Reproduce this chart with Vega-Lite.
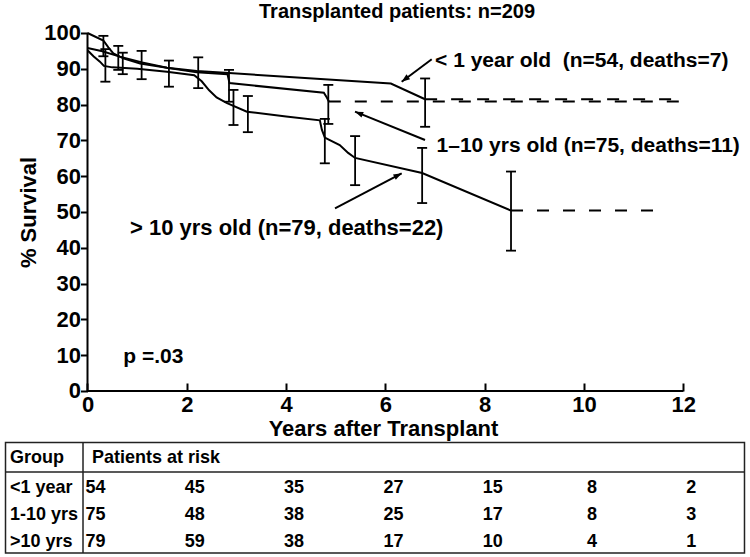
{
  "$schema": "https://vega.github.io/schema/vega-lite/v6.json",
  "width": 740,
  "height": 522.68,
  "autosize": {"type": "none"},
  "padding": {"left": 5, "top": 33, "right": 5, "bottom": 0},
  "background": "white",
  "config": {"view": {"stroke": null}, "font": "Liberation Sans"},
  "title": {"text": "Transplanted patients: n=209", "font": "Liberation Sans", "fontSize": 20, "fontWeight": "bold", "color": "black", "anchor": "middle", "dx": 22, "offset": -16, "baseline": "alphabetic"},
  "datasets": {
    "curves": [
      {"group": "<1 year", "t": 0, "s": 100}, {"group": "<1 year", "t": 0.32, "s": 97.9}, {"group": "<1 year", "t": 0.42, "s": 96.0}, {"group": "<1 year", "t": 0.52, "s": 94.3}, {"group": "<1 year", "t": 0.72, "s": 92.9}, {"group": "<1 year", "t": 1.06, "s": 91.5}, {"group": "<1 year", "t": 1.6, "s": 90.3}, {"group": "<1 year", "t": 2.2, "s": 89.4}, {"group": "<1 year", "t": 2.85, "s": 88.8}, {"group": "<1 year", "t": 6.11, "s": 85.9}, {"group": "<1 year", "t": 6.8, "s": 81.5},
      {"group": "1-10 yrs", "t": 0, "s": 95.8}, {"group": "1-10 yrs", "t": 0.3, "s": 94.9}, {"group": "1-10 yrs", "t": 0.65, "s": 93.4}, {"group": "1-10 yrs", "t": 1.1, "s": 91.8}, {"group": "1-10 yrs", "t": 1.6, "s": 90.3}, {"group": "1-10 yrs", "t": 2.2, "s": 89.0}, {"group": "1-10 yrs", "t": 2.82, "s": 88.5}, {"group": "1-10 yrs", "t": 2.86, "s": 86.0}, {"group": "1-10 yrs", "t": 4.76, "s": 83.3}, {"group": "1-10 yrs", "t": 4.82, "s": 82.0}, {"group": "1-10 yrs", "t": 4.86, "s": 80.9},
      {"group": ">10 yrs", "t": 0, "s": 95.2}, {"group": ">10 yrs", "t": 0.12, "s": 93.5}, {"group": ">10 yrs", "t": 0.25, "s": 92.0}, {"group": ">10 yrs", "t": 0.33, "s": 90.8}, {"group": ">10 yrs", "t": 0.5, "s": 90.4}, {"group": ">10 yrs", "t": 1.0, "s": 90.0}, {"group": ">10 yrs", "t": 1.6, "s": 89.2}, {"group": ">10 yrs", "t": 2.15, "s": 88.2}, {"group": ">10 yrs", "t": 2.3, "s": 86.5}, {"group": ">10 yrs", "t": 2.45, "s": 84.0}, {"group": ">10 yrs", "t": 2.6, "s": 82.0}, {"group": ">10 yrs", "t": 2.8, "s": 80.5}, {"group": ">10 yrs", "t": 3.21, "s": 78.0}, {"group": ">10 yrs", "t": 4.0, "s": 76.7}, {"group": ">10 yrs", "t": 4.68, "s": 75.6}, {"group": ">10 yrs", "t": 4.72, "s": 73.0}, {"group": ">10 yrs", "t": 4.78, "s": 70.8}, {"group": ">10 yrs", "t": 4.85, "s": 70.3}, {"group": ">10 yrs", "t": 5.08, "s": 68.7}, {"group": ">10 yrs", "t": 5.25, "s": 66.5}, {"group": ">10 yrs", "t": 5.39, "s": 65.1}, {"group": ">10 yrs", "t": 6.74, "s": 60.9}, {"group": ">10 yrs", "t": 8.53, "s": 50.4}
    ],
    "tails": [
      {"group": "<1 year", "t": 6.8, "s": 81.5}, {"group": "<1 year", "t": 11.97, "s": 81.5},
      {"group": "1-10 yrs", "t": 4.86, "s": 80.9}, {"group": "1-10 yrs", "t": 11.97, "s": 80.9},
      {"group": ">10 yrs", "t": 8.53, "s": 50.4}, {"group": ">10 yrs", "t": 11.49, "s": 50.4}
    ],
    "bars": [
      {"group": "<1 year", "t": 0.32, "lo": 93.5, "hi": 99.2},
      {"group": ">10 yrs", "t": 0.36, "lo": 86.4, "hi": 95.5},
      {"group": "1-10 yrs", "t": 0.62, "lo": 89.7, "hi": 96.4},
      {"group": "<1 year", "t": 0.71, "lo": 88.5, "hi": 94.5},
      {"group": "1-10 yrs", "t": 1.09, "lo": 87.1, "hi": 95.0},
      {"group": ">10 yrs", "t": 1.64, "lo": 85.0, "hi": 92.3},
      {"group": "<1 year", "t": 2.23, "lo": 84.6, "hi": 93.2},
      {"group": "1-10 yrs", "t": 2.85, "lo": 80.8, "hi": 89.7},
      {"group": ">10 yrs", "t": 2.94, "lo": 74.3, "hi": 84.1},
      {"group": ">10 yrs", "t": 3.23, "lo": 72.3, "hi": 82.4},
      {"group": ">10 yrs", "t": 4.78, "lo": 63.6, "hi": 76.0},
      {"group": "1-10 yrs", "t": 4.85, "lo": 74.6, "hi": 85.5},
      {"group": ">10 yrs", "t": 5.39, "lo": 57.5, "hi": 71.2},
      {"group": ">10 yrs", "t": 6.74, "lo": 52.5, "hi": 67.9},
      {"group": "<1 year", "t": 6.8, "lo": 73.8, "hi": 87.3},
      {"group": ">10 yrs", "t": 8.53, "lo": 39.2, "hi": 61.3}
    ],
    "labels": [
      {"text": "< 1 year old \u00a0(n=54, deaths=7)", "t": 7.0, "s": 92.26, "size": "m"},
      {"text": "1–10 yrs old (n=75, deaths=11)", "t": 7.03, "s": 68.44, "size": "m"},
      {"text": "> 10 yrs old (n=79, deaths=22)", "t": 0.856, "s": 45.5, "size": "l"},
      {"text": "p =.03", "t": 0.72, "s": 9.58, "size": "m"}
    ],
    "arrows": [
      {"arrow": "a", "t": 6.933, "s": 92.65, "t2": 6.328, "s2": 86.4},
      {"arrow": "b", "t": 6.798, "s": 70.11, "t2": 5.388, "s2": 78.02},
      {"arrow": "c", "t": 4.985, "s": 51.03, "t2": 6.328, "s2": 60.81}
    ],
    "risk": [
      {"group": "<1 year", "year": 0, "n": 54}, {"group": "<1 year", "year": 2, "n": 45}, {"group": "<1 year", "year": 4, "n": 35}, {"group": "<1 year", "year": 6, "n": 27}, {"group": "<1 year", "year": 8, "n": 15}, {"group": "<1 year", "year": 10, "n": 8}, {"group": "<1 year", "year": 12, "n": 2},
      {"group": "1-10 yrs", "year": 0, "n": 75}, {"group": "1-10 yrs", "year": 2, "n": 48}, {"group": "1-10 yrs", "year": 4, "n": 38}, {"group": "1-10 yrs", "year": 6, "n": 25}, {"group": "1-10 yrs", "year": 8, "n": 17}, {"group": "1-10 yrs", "year": 10, "n": 8}, {"group": "1-10 yrs", "year": 12, "n": 3},
      {"group": ">10 yrs", "year": 0, "n": 79}, {"group": ">10 yrs", "year": 2, "n": 59}, {"group": ">10 yrs", "year": 4, "n": 38}, {"group": ">10 yrs", "year": 6, "n": 17}, {"group": ">10 yrs", "year": 8, "n": 10}, {"group": ">10 yrs", "year": 10, "n": 4}, {"group": ">10 yrs", "year": 12, "n": 1}
    ]
  },
  "layer": [
    {
      "data": {"values": [{}]},
      "mark": {"type": "rule", "strokeWidth": 2, "color": "black"},
      "encoding": {
        "x": {"datum": 0, "type": "quantitative",
          "scale": {"domain": [-1.6616, 13.2427], "nice": false, "zero": false},
          "axis": {"title": "Years after Transplant", "values": [0, 2, 4, 6, 8, 10, 12], "offset": -164.68, "domain": false, "grid": false,
            "tickSize": -8, "tickWidth": 2, "tickColor": "black",
            "labelFont": "Liberation Sans", "labelFontSize": 22, "labelFontWeight": "bold", "labelColor": "black", "labelPadding": 12, "labelFlush": false, "labelOverlap": false,
            "titleFont": "Liberation Sans", "titleFontSize": 22, "titleFontWeight": "bold", "titleColor": "black",
            "titleX": 378, "titleY": 44.5, "titleBaseline": "alphabetic", "titleAlign": "center"}},
        "y": {"datum": 0, "type": "quantitative",
          "scale": {"domain": [-46, 100], "nice": false, "zero": false},
          "axis": {"title": "% Survival", "values": [0, 10, 20, 30, 40, 50, 60, 70, 80, 90, 100], "offset": -82.5, "domain": false, "grid": false,
            "tickSize": 7, "tickWidth": 2, "tickColor": "black",
            "labelFont": "Liberation Sans", "labelFontSize": 22, "labelFontWeight": "bold", "labelColor": "black", "labelPadding": 0, "labelOverlap": false,
            "titleFont": "Liberation Sans", "titleFontSize": 22, "titleFontWeight": "bold", "titleColor": "black",
            "titleX": -58.8, "titleY": 179, "titleBaseline": "middle", "titleAlign": "center", "titleAngle": -90}},
        "y2": {"datum": 100}
      }
    },
    {
      "data": {"values": [{}]},
      "mark": {"type": "rule", "strokeWidth": 2, "color": "black"},
      "encoding": {"x": {"datum": 0}, "x2": {"datum": 12}, "y": {"datum": 0}}
    },
    {
      "data": {"name": "curves"},
      "mark": {"type": "line", "strokeWidth": 2, "color": "black"},
      "encoding": {"x": {"field": "t", "type": "quantitative"}, "y": {"field": "s", "type": "quantitative"}, "detail": {"field": "group"}}
    },
    {
      "data": {"name": "tails"},
      "mark": {"type": "line", "strokeWidth": 2, "color": "black", "strokeDash": [12, 14]},
      "encoding": {"x": {"field": "t", "type": "quantitative"}, "y": {"field": "s", "type": "quantitative"}, "detail": {"field": "group"}}
    },
    {
      "data": {"name": "bars"},
      "mark": {"type": "rule", "strokeWidth": 1.8, "color": "black"},
      "encoding": {"x": {"field": "t", "type": "quantitative"}, "y": {"field": "lo", "type": "quantitative"}, "y2": {"field": "hi"}}
    },
    {
      "data": {"name": "bars"},
      "mark": {"type": "tick", "orient": "horizontal", "size": 10, "thickness": 1.8, "color": "black", "opacity": 1},
      "encoding": {"x": {"field": "t", "type": "quantitative"}, "y": {"field": "lo", "type": "quantitative"}}
    },
    {
      "data": {"name": "bars"},
      "mark": {"type": "tick", "orient": "horizontal", "size": 10, "thickness": 1.8, "color": "black", "opacity": 1},
      "encoding": {"x": {"field": "t", "type": "quantitative"}, "y": {"field": "hi", "type": "quantitative"}}
    },
    {
      "data": {"name": "labels"},
      "transform": [{"filter": "datum.size === 'm'"}],
      "mark": {"type": "text", "align": "left", "baseline": "middle", "font": "Liberation Sans", "fontSize": 21, "fontWeight": "bold", "color": "black"},
      "encoding": {"x": {"field": "t", "type": "quantitative"}, "y": {"field": "s", "type": "quantitative"}, "text": {"field": "text"}}
    },
    {
      "data": {"name": "labels"},
      "transform": [{"filter": "datum.size === 'l'"}],
      "mark": {"type": "text", "align": "left", "baseline": "middle", "font": "Liberation Sans", "fontSize": 22, "fontWeight": "bold", "color": "black"},
      "encoding": {"x": {"field": "t", "type": "quantitative"}, "y": {"field": "s", "type": "quantitative"}, "text": {"field": "text"}}
    },
    {
      "data": {"name": "arrows"},
      "mark": {"type": "rule", "strokeWidth": 2, "color": "black"},
      "encoding": {"x": {"field": "t", "type": "quantitative"}, "y": {"field": "s", "type": "quantitative"}, "x2": {"field": "t2"}, "y2": {"field": "s2"}}
    },
    {
      "data": {"name": "arrows"},
      "transform": [{"filter": "datum.arrow === 'a'"}],
      "mark": {"type": "point", "shape": "M0,0L0.55,1.5L-0.55,1.5Z", "filled": true, "size": 120, "color": "black", "opacity": 1, "angle": 233.25},
      "encoding": {"x": {"field": "t2", "type": "quantitative"}, "y": {"field": "s2", "type": "quantitative"}}
    },
    {
      "data": {"name": "arrows"},
      "transform": [{"filter": "datum.arrow === 'b'"}],
      "mark": {"type": "point", "shape": "M0,0L0.55,1.5L-0.55,1.5Z", "filled": true, "size": 120, "color": "black", "opacity": 1, "angle": 292},
      "encoding": {"x": {"field": "t2", "type": "quantitative"}, "y": {"field": "s2", "type": "quantitative"}}
    },
    {
      "data": {"name": "arrows"},
      "transform": [{"filter": "datum.arrow === 'c'"}],
      "mark": {"type": "point", "shape": "M0,0L0.55,1.5L-0.55,1.5Z", "filled": true, "size": 120, "color": "black", "opacity": 1, "angle": 62.3},
      "encoding": {"x": {"field": "t2", "type": "quantitative"}, "y": {"field": "s2", "type": "quantitative"}}
    },
    {
      "data": {"values": [{}]},
      "mark": {"type": "rect", "fill": "transparent", "stroke": "#222", "strokeWidth": 1.5},
      "encoding": {"x": {"datum": -1.6515}, "x2": {"datum": 13.2326}, "y": {"datum": -14.39}, "y2": {"datum": -45.25}}
    },
    {
      "data": {"values": [{}]},
      "mark": {"type": "rule", "stroke": "#222", "strokeWidth": 1.5},
      "encoding": {"x": {"datum": -1.6515}, "x2": {"datum": 13.2326}, "y": {"datum": -22.63}}
    },
    {
      "data": {"values": [{}]},
      "mark": {"type": "rule", "stroke": "#222", "strokeWidth": 1.5},
      "encoding": {"x": {"datum": -0.0906}, "y": {"datum": -14.39}, "y2": {"datum": -45.25}}
    },
    {
      "data": {"values": [{"label": "Group", "col": "group"}, {"label": "Patients at risk", "col": "risk"}]},
      "transform": [{"filter": "datum.col === 'group'"}],
      "mark": {"type": "text", "align": "left", "baseline": "middle", "font": "Liberation Sans", "fontSize": 18, "fontWeight": "bold", "color": "black"},
      "encoding": {"x": {"datum": -1.561}, "y": {"datum": -18.58}, "text": {"field": "label"}}
    },
    {
      "data": {"values": [{"label": "Group", "col": "group"}, {"label": "Patients at risk", "col": "risk"}]},
      "transform": [{"filter": "datum.col === 'risk'"}],
      "mark": {"type": "text", "align": "left", "baseline": "middle", "font": "Liberation Sans", "fontSize": 18, "fontWeight": "bold", "color": "black"},
      "encoding": {"x": {"datum": 0.0906}, "y": {"datum": -18.58}, "text": {"field": "label"}}
    },
    {
      "data": {"name": "risk"},
      "transform": [{"filter": "datum.group === '<1 year'"}],
      "mark": {"type": "text", "align": "center", "baseline": "middle", "dx": 8, "font": "Liberation Sans", "fontSize": 18, "fontWeight": "bold", "color": "black"},
      "encoding": {"x": {"field": "year", "type": "quantitative"}, "y": {"datum": -26.96}, "text": {"field": "n"}}
    },
    {
      "data": {"name": "risk"},
      "transform": [{"filter": "datum.group === '1-10 yrs'"}],
      "mark": {"type": "text", "align": "center", "baseline": "middle", "dx": 8, "font": "Liberation Sans", "fontSize": 18, "fontWeight": "bold", "color": "black"},
      "encoding": {"x": {"field": "year", "type": "quantitative"}, "y": {"datum": -34.64}, "text": {"field": "n"}}
    },
    {
      "data": {"name": "risk"},
      "transform": [{"filter": "datum.group === '>10 yrs'"}],
      "mark": {"type": "text", "align": "center", "baseline": "middle", "dx": 8, "font": "Liberation Sans", "fontSize": 18, "fontWeight": "bold", "color": "black"},
      "encoding": {"x": {"field": "year", "type": "quantitative"}, "y": {"datum": -42.32}, "text": {"field": "n"}}
    },
    {
      "data": {"name": "risk"},
      "transform": [{"filter": "datum.group === '<1 year' && datum.year === 0"}],
      "mark": {"type": "text", "align": "left", "baseline": "middle", "font": "Liberation Sans", "fontSize": 18, "fontWeight": "bold", "color": "black"},
      "encoding": {"x": {"datum": -1.561}, "y": {"datum": -26.96}, "text": {"field": "group"}}
    },
    {
      "data": {"name": "risk"},
      "transform": [{"filter": "datum.group === '1-10 yrs' && datum.year === 0"}],
      "mark": {"type": "text", "align": "left", "baseline": "middle", "font": "Liberation Sans", "fontSize": 18, "fontWeight": "bold", "color": "black"},
      "encoding": {"x": {"datum": -1.561}, "y": {"datum": -34.64}, "text": {"field": "group"}}
    },
    {
      "data": {"name": "risk"},
      "transform": [{"filter": "datum.group === '>10 yrs' && datum.year === 0"}],
      "mark": {"type": "text", "align": "left", "baseline": "middle", "font": "Liberation Sans", "fontSize": 18, "fontWeight": "bold", "color": "black"},
      "encoding": {"x": {"datum": -1.561}, "y": {"datum": -42.32}, "text": {"field": "group"}}
    }
  ]
}
